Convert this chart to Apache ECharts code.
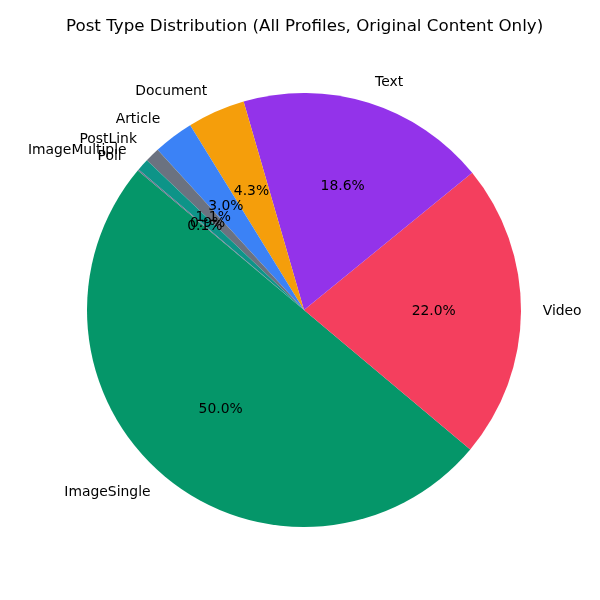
<!DOCTYPE html>
<html>
<head>
<meta charset="utf-8">
<script src="https://cdn.jsdelivr.net/npm/echarts@6/dist/echarts.min.js"></script>
<style>html,body{margin:0;padding:0;background:#fff}#c{width:600px;height:600px}</style>
</head>
<body>
<div id="c"></div>
<script>
const categories = ['ImageSingle', 'Video', 'Text', 'Document', 'Article', 'PostLink', 'ImageMultiple', 'Poll'];
const shares = [50.0, 22.0, 18.6, 4.3, 3.0, 1.1, 0.9, 0.1];
const colors = ['#059669', '#f43f5e', '#9333ea', '#f59e0b', '#3b82f6', '#6b7280', '#0d9488', '#64748b'];
const title = 'Post Type Distribution (All Profiles, Original Content Only)';

const R = 217;
const center = [304, 310];
const font = 'DejaVu Sans';
const total = shares.reduce((a, b) => a + b, 0);

const chart = echarts.init(document.getElementById('c'), null, { renderer: 'canvas' });

// one series per label so that no label is hidden by overlap handling
const series = [];
series.push({
  type: 'pie', center: center, radius: [0, R], z: 1,
  startAngle: 140, clockwise: false, avoidLabelOverlap: false,
  silent: true,
  data: categories.map((c, i) => ({ name: c, value: shares[i], itemStyle: { color: colors[i] } })),
  itemStyle: { borderWidth: 0 },
  label: { show: false }, labelLine: { show: false }
});
categories.forEach((c, k) => {
  series.push({
    type: 'pie', center: center, radius: [0, R], z: 2,
    startAngle: 140, clockwise: false, avoidLabelOverlap: false,
    silent: true, labelLayout: { hideOverlap: false },
    data: categories.map((cc, i) => ({ name: cc, value: shares[i], label: { show: i === k } })),
    itemStyle: { color: 'rgba(0,0,0,0)', borderWidth: 0 },
    label: { position: 'outside', formatter: '{b}', color: '#000', fontFamily: font, fontSize: 13.9, distanceToLabelLine: 0, padding: [4, 0, 0, 0] },
    labelLine: { show: false, length: 0.1 * R, length2: 0 }
  });
  series.push({
    type: 'pie', center: center, radius: [0, 1.2 * R - 7], z: 3,
    startAngle: 140, clockwise: false, avoidLabelOverlap: false,
    silent: true, labelLayout: { hideOverlap: false },
    data: categories.map((cc, i) => ({ name: cc, value: shares[i], label: { show: i === k } })),
    itemStyle: { color: 'rgba(0,0,0,0)', borderWidth: 0 },
    label: { position: 'inside', formatter: p => (p.value / total * 100).toFixed(1) + '%', color: '#000', fontFamily: font, fontSize: 13.9 },
    labelLine: { show: false }
  });
});

chart.setOption({
  animation: false,
  backgroundColor: '#fff',
  title: {
    text: title, left: 66, top: 18, padding: 0,
    textStyle: { fontFamily: font, fontSize: 16.7, fontWeight: 'normal', color: '#000' }
  },
  series: series
});
</script>
</body>
</html>
